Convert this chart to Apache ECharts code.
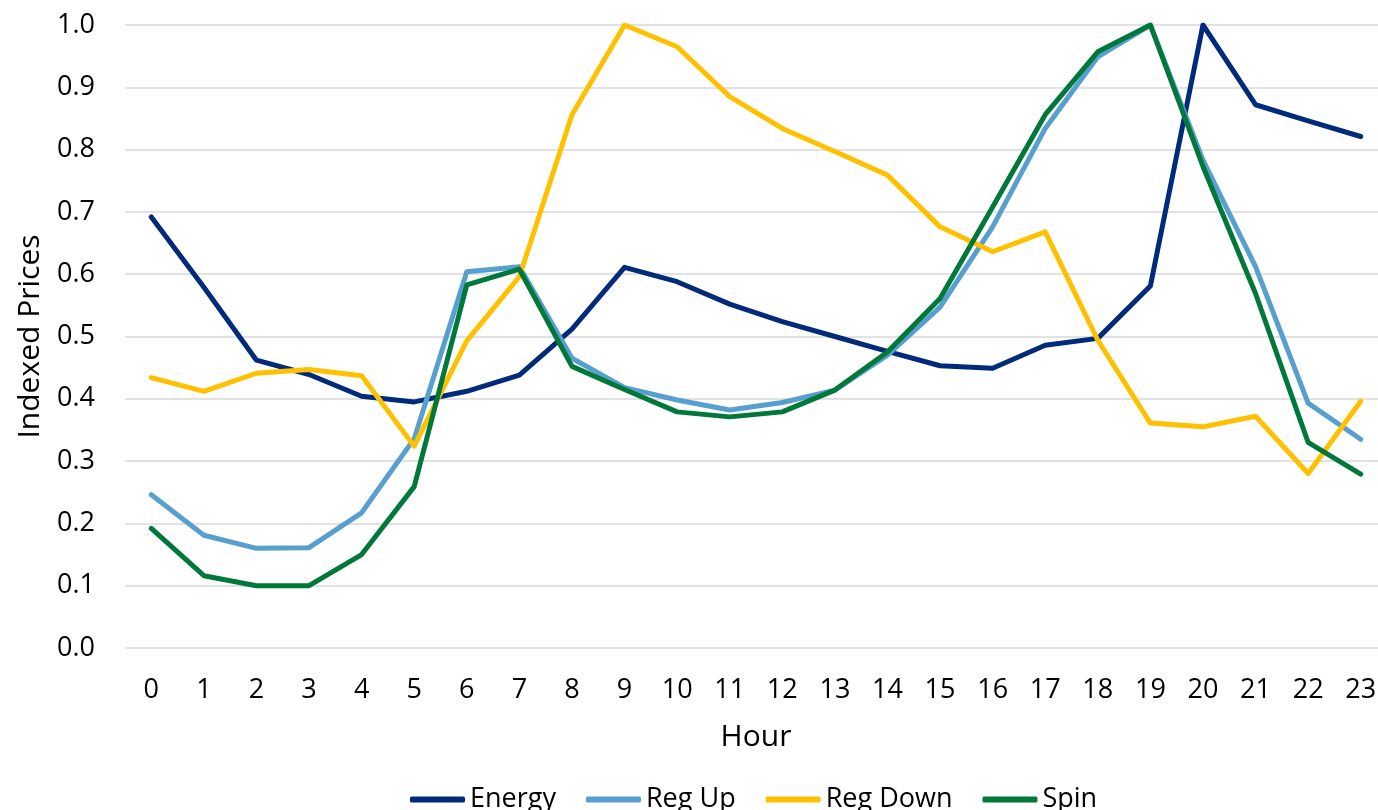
<!DOCTYPE html>
<html>
<head>
<meta charset="utf-8">
<title>Indexed Prices by Hour</title>
<script src="https://cdn.jsdelivr.net/npm/echarts@6/dist/echarts.min.js"></script>
<style>
  html, body { margin: 0; padding: 0; background: #ffffff; }
  #chart { width: 1378px; height: 810px; }
</style>
</head>
<body>
<div id="chart"></div>
<script>
// Hours of the day (x categories)
const hours = ['0','1','2','3','4','5','6','7','8','9','10','11','12','13','14','15','16','17','18','19','20','21','22','23'];

// Indexed prices per product
const energy  = [0.692, 0.579, 0.462, 0.439, 0.404, 0.395, 0.412, 0.438, 0.512, 0.611, 0.588, 0.552, 0.524, 0.500, 0.476, 0.453, 0.449, 0.486, 0.497, 0.581, 1.000, 0.872, 0.846, 0.821];
const regUp   = [0.246, 0.181, 0.160, 0.161, 0.217, 0.336, 0.604, 0.612, 0.465, 0.418, 0.398, 0.382, 0.394, 0.414, 0.470, 0.547, 0.676, 0.834, 0.949, 1.000, 0.783, 0.612, 0.393, 0.335];
const regDown = [0.434, 0.412, 0.441, 0.447, 0.437, 0.324, 0.493, 0.596, 0.856, 1.000, 0.965, 0.885, 0.834, 0.797, 0.759, 0.676, 0.636, 0.668, 0.494, 0.361, 0.355, 0.372, 0.280, 0.396];
const spin    = [0.192, 0.116, 0.100, 0.100, 0.150, 0.259, 0.583, 0.608, 0.452, 0.415, 0.379, 0.371, 0.379, 0.414, 0.475, 0.561, 0.708, 0.856, 0.957, 1.000, 0.773, 0.569, 0.330, 0.279];

const seriesNames  = ['Energy', 'Reg Up', 'Reg Down', 'Spin'];
const seriesValues = [energy, regUp, regDown, spin];
const seriesColors = ['#002B7A', '#569FCF', '#FFC000', '#00783A'];

const FONT = "'Open Sans', 'Noto Sans', sans-serif";

const chart = echarts.init(document.getElementById('chart'), null, { renderer: 'canvas' });

chart.setOption({
  animation: false,
  backgroundColor: '#ffffff',
  color: seriesColors,
  grid: {
    left: 125,
    top: 25,
    width: 1262,
    height: 623,
    containLabel: false,
    outerBoundsMode: 'none'
  },
  legend: {
    data: seriesNames,
    bottom: -8,
    left: 405,
    itemWidth: 55,
    itemHeight: 6,
    itemGap: 30,
    icon: 'roundRect',
    textStyle: { fontFamily: FONT, fontSize: 27, color: '#000000' }
  },
  xAxis: {
    type: 'category',
    data: hours,
    boundaryGap: true,
    name: 'Hour',
    nameLocation: 'middle',
    nameGap: 74,
    nameTextStyle: { fontFamily: FONT, fontSize: 30, color: '#000000' },
    axisLine: { show: false },
    axisTick: { show: false },
    axisLabel: { fontFamily: FONT, fontSize: 27, color: '#000000', margin: 29 }
  },
  yAxis: {
    type: 'value',
    min: 0,
    max: 1,
    interval: 0.1,
    name: 'Indexed Prices',
    nameLocation: 'middle',
    nameGap: 80,
    nameTextStyle: { fontFamily: FONT, fontSize: 30, color: '#000000' },
    axisLine: { show: false },
    axisTick: { show: false },
    axisLabel: {
      fontFamily: FONT,
      fontSize: 27,
      color: '#000000',
      margin: 30,
      formatter: v => v.toFixed(1)
    },
    splitLine: { lineStyle: { color: '#D9D9D9', width: 1.5 } }
  },
  series: seriesNames.map((name, i) => ({
    name: name,
    type: 'line',
    data: seriesValues[i],
    symbol: 'none',
    smooth: false,
    lineStyle: { width: 5, color: seriesColors[i], cap: 'round', join: 'round' },
    itemStyle: { color: seriesColors[i] },
    z: 2 + i
  }))
});
</script>
</body>
</html>
